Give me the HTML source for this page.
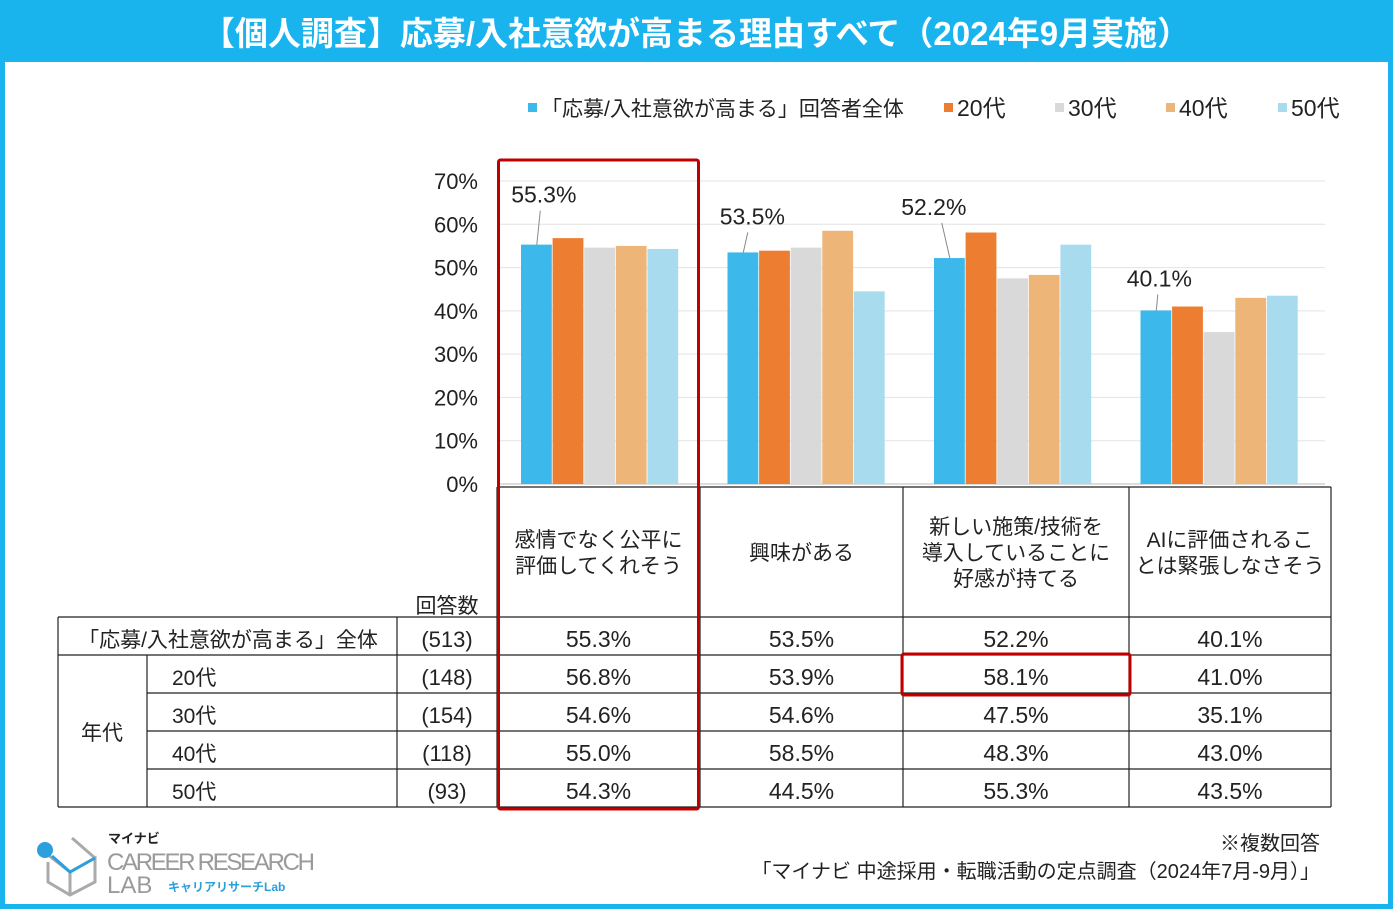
<!DOCTYPE html>
<html><head><meta charset="utf-8"><style>
html,body{margin:0;padding:0;background:#fff}
svg{display:block;font-family:"Liberation Sans","Noto Sans CJK JP",sans-serif}
</style></head><body>
<svg id="c" width="1393" height="909" viewBox="0 0 1393 909" xmlns="http://www.w3.org/2000/svg">
<rect x="2.5" y="2.5" width="1388" height="904" fill="#fff" stroke="#19B4EE" stroke-width="5"/>
<rect x="0" y="0" width="1393" height="62" fill="#19B4EE"/>
<text x="696" y="45" text-anchor="middle" font-size="33" font-weight="bold" fill="#fff">【個人調査】応募/入社意欲が高まる理由すべて（2024年9月実施）</text>
<g id="legend" font-size="22" fill="#222"></g>
<g id="grid"></g>
<g id="bars"></g>
<g id="table" font-size="22" fill="#222"></g>
<rect x="498.5" y="160" width="200" height="649" fill="none" stroke="#C00000" stroke-width="3" rx="2"/>
<rect x="902" y="654" width="228" height="41" fill="none" stroke="#C00000" stroke-width="3" rx="2"/>
<g>
<path d="M48 855 L70 872 L70 895 M70 872 L95 858 L95 882 L70 895 L48 882 L48 862 M72 838 L95 858" fill="none" stroke="#aaa" stroke-width="3"/>
<circle cx="45" cy="850" r="8" fill="#2BA0DD"/>
<path d="M52 856 L70 872 L95 858" fill="none" stroke="#2BA0DD" stroke-width="3"/>
<text x="108" y="843" font-size="13" font-weight="bold" fill="#222">マイナビ</text>
<text x="107" y="870" font-size="24" fill="#9a9a9a" textLength="208">CAREER RESEARCH</text>
<text x="107" y="893" font-size="24" fill="#9a9a9a">LAB</text>
<text x="168" y="891" font-size="12" font-weight="bold" fill="#2BA0DD">キャリアリサーチLab</text>
</g>
<text x="1320" y="850" text-anchor="end" font-size="20" fill="#222">※複数回答</text>
<text x="1320" y="878" text-anchor="end" font-size="20" fill="#222">「マイナビ 中途採用・転職活動の定点調査（2024年7月-9月）」</text>
</svg>
<script>
const categories=["感情でなく公平に|評価してくれそう","興味がある","新しい施策/技術を|導入していることに|好感が持てる","AIに評価されるこ|とは緊張しなさそう"];
const seriesNames=["「応募/入社意欲が高まる」回答者全体","20代","30代","40代","50代"];
const counts=["(513)","(148)","(154)","(118)","(93)"];
const rowLabels=["「応募/入社意欲が高まる」全体","20代","30代","40代","50代"];
const sAll=[55.3,53.5,52.2,40.1];
const s20=[56.8,53.9,58.1,41.0];
const s30=[54.6,54.6,47.5,35.1];
const s40=[55.0,58.5,48.3,43.0];
const s50=[54.3,44.5,55.3,43.5];
const yTicks=[0,10,20,30,40,50,60,70];
const colors=["#3DB8EA","#ED7D31","#D9D9D9","#EDB577","#A9DBEE"];
const series=[sAll,s20,s30,s40,s50];
const labDx=[7,9,-16,3], labDy=[-42,-28,-43,-24];
const NS="http://www.w3.org/2000/svg";
function mk(t,a,p,txt){const e=document.createElementNS(NS,t);for(const k in a)e.setAttribute(k,a[k]);if(txt!=null)e.textContent=txt;p.appendChild(e);return e;}
const y=v=>484-v*(303/70);
const gx=i=>500+i*206.5;
const grid=document.getElementById('grid');
yTicks.forEach(t=>{
 const l=mk('line',{x1:500,x2:1325,y1:y(t),y2:y(t),stroke:t?'#e3e3e3':'#bbb','stroke-width':1},grid);
 
 const tx=mk('text',{x:478,y:y(t)+8,'text-anchor':'end','font-size':22,fill:'#222'},grid,t+'%');
 
});
const bars=document.getElementById('bars');
const bw=31.6;
categories.forEach((c,i)=>{
 series.forEach((s,j)=>{
  const x=gx(i)+21+j*bw;
  const r=mk('rect',{x:x,y:y(s[i]),width:bw-0.8,height:484-y(s[i]),fill:colors[j]},bars);
  
 });
 const bx=gx(i)+21+bw/2;
 const ly=y(sAll[i])+labDy[i];
 const ln=mk('line',{x1:bx,y1:y(sAll[i]),x2:bx+labDx[i]*0.5,y2:ly+8,stroke:'#888','stroke-width':1},bars);
 
 const t=mk('text',{x:bx+labDx[i],y:ly,'text-anchor':'middle','font-size':23,fill:'#222'},bars,sAll[i].toFixed(1)+'%');
 
});
const lg=document.getElementById('legend');
const lx=[528,944,1055,1166,1278];
seriesNames.forEach((n,j)=>{
 const r=mk('rect',{x:lx[j],y:103,width:9,height:9,fill:colors[j]},lg);
 
 const t=mk('text',{x:lx[j]+13,y:116,'font-size':j?23:21},lg,n);
 
});
const tb=document.getElementById('table');
const colX=[497,700,903,1129,1331];
const rowY=[617,655,693,731,769,807];
function L(x1,y1,x2,y2){const l=mk('line',{x1,y1,x2,y2,stroke:'#222','stroke-width':1.2},tb);}
colX.forEach(x=>L(x,487,x,807));
L(497,487,1331,487);
rowY.forEach((yy,k)=>L(k==0||k==5||k==1?58:147,yy,1331,yy));
L(58,617,58,807);L(147,655,147,807);L(397,617,397,807);
categories.forEach((c,i)=>{
 const lines=c.split('|');const cx=(colX[i]+colX[i+1])/2;
 lines.forEach((s,k)=>{const t=mk('text',{x:cx,y:560+(k-(lines.length-1)/2)*26,'text-anchor':'middle','font-size':21},tb,s);
 });
 series.forEach((s,j)=>{const t=mk('text',{x:cx,y:rowY[j]+30,'text-anchor':'middle','font-size':23},tb,s[i].toFixed(1)+'%');
 });
});
const h=mk('text',{x:447,y:613,'text-anchor':'middle','font-size':21},tb,'回答数');
rowLabels.forEach((n,j)=>{
 const t=mk('text',{x:j?172:228,y:rowY[j]+30,'text-anchor':j?'start':'middle','font-size':21},tb,n);
 
 const c=mk('text',{x:447,y:rowY[j]+30,'text-anchor':'middle','font-size':22},tb,counts[j]);
 
});
const ag=mk('text',{x:102,y:740,'text-anchor':'middle','font-size':21},tb,'年代');
</script>
</body></html>
